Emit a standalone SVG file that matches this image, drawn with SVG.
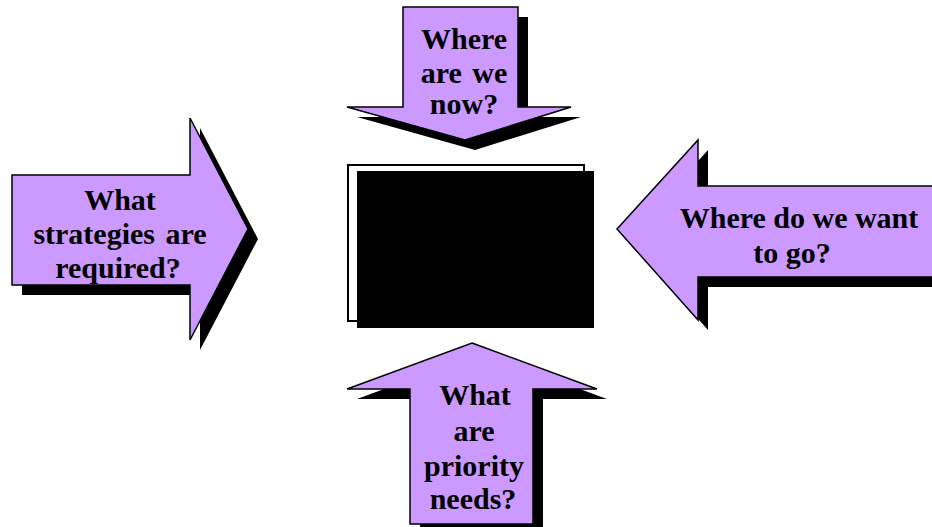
<svg xmlns="http://www.w3.org/2000/svg" width="932" height="527" viewBox="0 0 932 527">
<style>
.arrow{fill:#CC99FF;stroke:#000;stroke-width:1.5;stroke-linejoin:miter}
.shadow{fill:#000;stroke:none}
.t{font-family:"Liberation Serif","Times New Roman",serif;font-weight:bold;font-size:30px;fill:#000;text-anchor:middle}
</style>
<rect width="932" height="527" fill="#fff"/>
<g id="center">
<rect x="348" y="165" width="236" height="156" fill="#fff" stroke="#000" stroke-width="2"/>
<rect x="357" y="171" width="237" height="157" fill="#000"/>
</g>
<g id="top-arrow">
<polygon class="shadow" transform="translate(10,10)" points="403,7 518,7 518,107 571,107 465,140 347,107 403,107"/>
<polygon class="arrow" points="403,7 518,7 518,107 571,107 465,140 347,107 403,107"/>
<text class="t" x="464" y="49">Where</text>
<text class="t" x="464" y="83" word-spacing="3">are we</text>
<text class="t" x="464" y="114">now?</text>
</g>
<g id="left-arrow">
<polygon class="shadow" transform="translate(10,10)" points="12,175 190,175 190,118 248,229 190,340 190,285 12,285"/>
<polygon class="arrow" points="12,175 190,175 190,118 248,229 190,340 190,285 12,285"/>
<text class="t" x="120" y="210">What</text>
<text class="t" x="120" y="244" word-spacing="3">strategies are</text>
<text class="t" x="118" y="278">required?</text>
</g>
<g id="right-arrow">
<polygon class="shadow" transform="translate(10,10)" points="617,229 698,140 698,186 940,186 940,277 698,277 698,320"/>
<polygon class="arrow" points="617,229 698,140 698,186 940,186 940,277 698,277 698,320"/>
<text class="t" x="799" y="228">Where do we want</text>
<text class="t" x="792" y="263">to go?</text>
</g>
<g id="bottom-arrow">
<polygon class="shadow" transform="translate(10,10)" points="472,343 597,389 533,389 533,524 410,524 410,389 347,389"/>
<polygon class="arrow" points="472,343 597,389 533,389 533,524 410,524 410,389 347,389"/>
<text class="t" x="475" y="405">What</text>
<text class="t" x="474" y="441">are</text>
<text class="t" x="474" y="476">priority</text>
<text class="t" x="473" y="509">needs?</text>
</g>
<g id="connectors"/>
</svg>
